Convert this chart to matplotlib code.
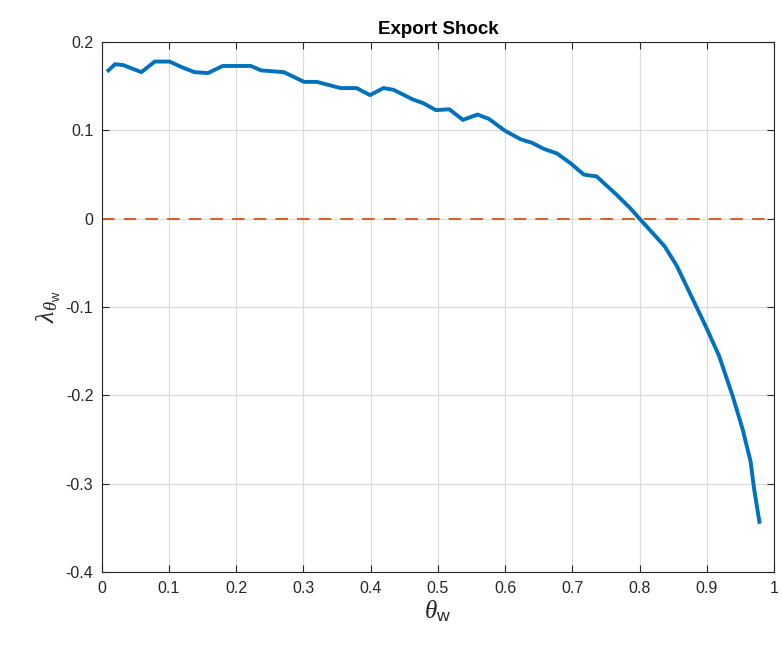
import matplotlib
matplotlib.use("Agg")
import matplotlib.pyplot as plt
import numpy as np

# ------------------------
# dados
theta_w = [0.010, 0.020, 0.032, 0.059, 0.079, 0.101, 0.118, 0.138, 0.158, 0.180,
           0.222, 0.237, 0.271, 0.301, 0.320, 0.355, 0.379, 0.399, 0.419, 0.434,
           0.463, 0.478, 0.497, 0.517, 0.537, 0.559, 0.576, 0.599, 0.623, 0.640,
           0.658, 0.677, 0.697, 0.717, 0.736, 0.766, 0.786, 0.800, 0.837, 0.855,
           0.884, 0.899, 0.918, 0.938, 0.953, 0.965, 0.970, 0.978]
lambda_w = [0.168, 0.175, 0.174, 0.166, 0.178, 0.178, 0.172, 0.166, 0.165, 0.173,
            0.173, 0.168, 0.166, 0.155, 0.155, 0.148, 0.148, 0.140, 0.148, 0.146,
            0.135, 0.131, 0.123, 0.124, 0.112, 0.118, 0.113, 0.100, 0.090, 0.086,
            0.079, 0.074, 0.063, 0.050, 0.048, 0.027, 0.012, 0.000, -0.031, -0.053,
            -0.099, -0.123, -0.155, -0.200, -0.238, -0.275, -0.305, -0.343]
xticks = [0, 0.1, 0.2, 0.3, 0.4, 0.5, 0.6, 0.7, 0.8, 0.9, 1]
yticks = [-0.4, -0.3, -0.2, -0.1, 0, 0.1, 0.2]

plt.rcParams['font.family'] = ['Liberation Sans', 'DejaVu Sans']
plt.rcParams['axes.unicode_minus'] = False
plt.rcParams['mathtext.fontset'] = 'custom'
plt.rcParams['mathtext.rm'] = 'Liberation Sans'
plt.rcParams['mathtext.sf'] = 'Liberation Sans'
plt.rcParams['mathtext.it'] = 'Liberation Serif:italic'

fig = plt.figure(figsize=(7.82, 6.48), dpi=100)
ax = fig.add_axes([0.130, 0.117, 0.860, 0.818])

ax.plot(theta_w, lambda_w, color='#0072BD', linewidth=2.8)
ax.axhline(0, color='#D95319', linewidth=1.3, linestyle=(0, (7, 5)))

ax.set_xlim(0, 1)
ax.set_ylim(-0.4, 0.2)
ax.set_xticks(xticks)
ax.set_yticks(yticks)
ax.set_xticklabels(['%g' % t for t in xticks])
ax.set_yticklabels(['%g' % t for t in yticks])
ax.tick_params(direction='in', length=5, labelsize=11.5, colors='#262626',
               top=True, right=True, pad=6)
ax.grid(True, color='#dadada', linewidth=0.8)
ax.set_axisbelow(True)
for s in ax.spines.values():
    s.set_color('#262626')
    s.set_linewidth(0.8)

ax.set_title('Export Shock', fontsize=13.5, fontweight='bold', pad=6)
ax.set_xlabel(r'$\theta_{\mathrm{w}}$', fontsize=18, color='#262626', labelpad=2)
ax.set_ylabel(r'$\lambda_{\theta_{\mathrm{w}}}$', fontsize=19, color='#262626', labelpad=2)

fig.savefig('out.png', dpi=100)
